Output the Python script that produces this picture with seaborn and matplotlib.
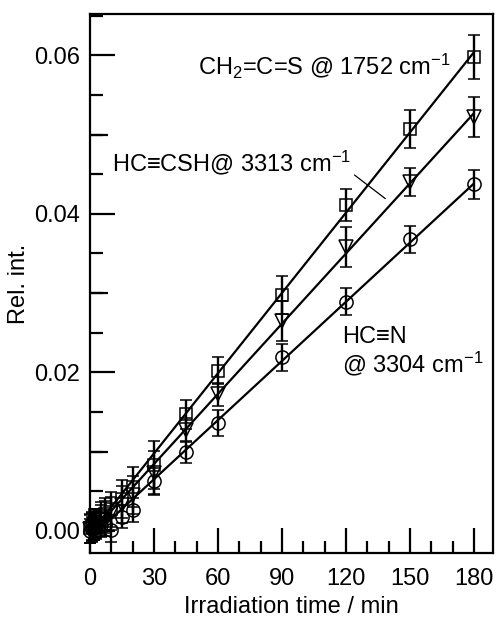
import matplotlib
matplotlib.use('Agg')
import matplotlib.pyplot as plt
import seaborn as sns
from matplotlib.ticker import MultipleLocator, NullLocator

# irradiation time / min
time = [0, 1, 2, 3, 5, 7, 10, 15, 20, 30, 45, 60, 90, 120, 150, 180]

# CH2=C=S @ 1752 cm-1 (squares)
ch2cs = [0.0003, 0.0006, 0.0009, 0.0010, 0.0016, 0.0021, 0.0027, 0.0040, 0.0055, 0.0083,
         0.0147, 0.0202, 0.0297, 0.0411, 0.0507, 0.0598]
ch2cs_err = [0.0018, 0.0018, 0.0018, 0.0018, 0.0020, 0.0020, 0.0022, 0.0024, 0.0025, 0.0030,
             0.0018, 0.0017, 0.0024, 0.0020, 0.0024, 0.0028]

# HC≡CSH @ 3313 cm-1 (triangles)
hccsh = [0.0002, 0.0004, 0.0007, 0.0009, 0.0013, 0.0017, 0.0022, 0.0033, 0.0045, 0.0073,
         0.0127, 0.0172, 0.0265, 0.0358, 0.0440, 0.0522]
hccsh_err = [0.0018, 0.0018, 0.0018, 0.0018, 0.0019, 0.0020, 0.0021, 0.0023, 0.0024, 0.0028,
             0.0015, 0.0015, 0.0025, 0.0025, 0.0018, 0.0025]

# HC≡N @ 3304 cm-1 (circles)
hcn = [0.0000, 0.0002, 0.0004, 0.0005, 0.0007, 0.0008, 0.0001, 0.0018, 0.0026, 0.0063,
       0.0099, 0.0136, 0.0219, 0.0289, 0.0368, 0.0437]
hcn_err = [0.0015, 0.0015, 0.0015, 0.0015, 0.0015, 0.0015, 0.0015, 0.0015, 0.0015, 0.0016,
           0.0014, 0.0016, 0.0017, 0.0017, 0.0017, 0.0018]

sns.set_style('ticks')
plt.rcParams['font.family'] = ['Liberation Sans', 'DejaVu Sans']
plt.rcParams['font.size'] = 17
plt.rcParams['mathtext.fontset'] = 'custom'
plt.rcParams['mathtext.rm'] = 'Liberation Sans'
plt.rcParams['mathtext.default'] = 'regular'
for key in ['text.color', 'axes.labelcolor', 'xtick.color', 'ytick.color', 'axes.edgecolor']:
    plt.rcParams[key] = 'black'

fig = plt.figure(figsize=(4.96, 6.18), dpi=100)
ax = fig.add_axes([0.1815, 0.1052, 0.8125, 0.8721])

series = [(ch2cs, ch2cs_err, 's', 8.5), (hccsh, hccsh_err, 'v', 9.5), (hcn, hcn_err, 'o', 9.5)]
for vals, errs, mk, ms in series:
    ax.errorbar(time, vals, yerr=errs, fmt=mk, ms=ms, mfc='none', mec='black', mew=1.1,
                ecolor='black', elinewidth=1.7, capsize=4.5, capthick=2.0, clip_on=False, zorder=2)
    # linear fit
    sns.regplot(x=time, y=vals, scatter=False, ci=None, color='black',
                line_kws={'lw': 1.6, 'zorder': 3}, ax=ax)

ax.set_xlim(0, 189)
ax.set_ylim(-0.0028, 0.0652)
ax.xaxis.set_major_locator(MultipleLocator(30))
ax.xaxis.set_minor_locator(MultipleLocator(10))
ax.yaxis.set_major_locator(MultipleLocator(0.02))
ax.yaxis.set_minor_locator(MultipleLocator(0.005))
ax.yaxis.set_major_formatter(matplotlib.ticker.FormatStrFormatter('%.2f'))
ax.tick_params(which='major', direction='in', length=18, width=1.6, top=False, right=False)
ax.tick_params(which='minor', direction='in', length=9, width=1.6, top=False, right=False)
ax.tick_params(axis='x', which='major', pad=11)
ax.tick_params(axis='y', which='major', pad=7)
for s in ax.spines.values():
    s.set_linewidth(1.6)
    s.set_color('black')

# medium ticks at 0.01, 0.03, 0.05
sec = ax.secondary_yaxis('left')
sec.set_yticks([0.01, 0.03, 0.05])
sec.yaxis.set_minor_locator(NullLocator())
sec.tick_params(direction='in', length=13, width=1.6, labelleft=False)
sec.spines['left'].set_visible(False)

ax.set_xlabel('Irradiation time / min', labelpad=4)
ax.set_ylabel('Rel. int.', labelpad=3)

ax.text(50.6, 0.0576, r'CH$_2$=C=S @ 1752 cm$^{-1}$', va='baseline', ha='left')
ax.text(10.3, 0.0453, r'HC≡CSH@ 3313 cm$^{-1}$', va='baseline', ha='left')
ax.text(118, 0.0237, 'HC≡N', va='baseline', ha='left')
ax.text(118, 0.0200, r'@ 3304 cm$^{-1}$', va='baseline', ha='left')
ax.annotate('', xy=(139.5, 0.0417), xytext=(123, 0.0451),
            arrowprops=dict(arrowstyle='-', lw=0.9, color='black'))

fig.savefig('out.png', dpi=100)
